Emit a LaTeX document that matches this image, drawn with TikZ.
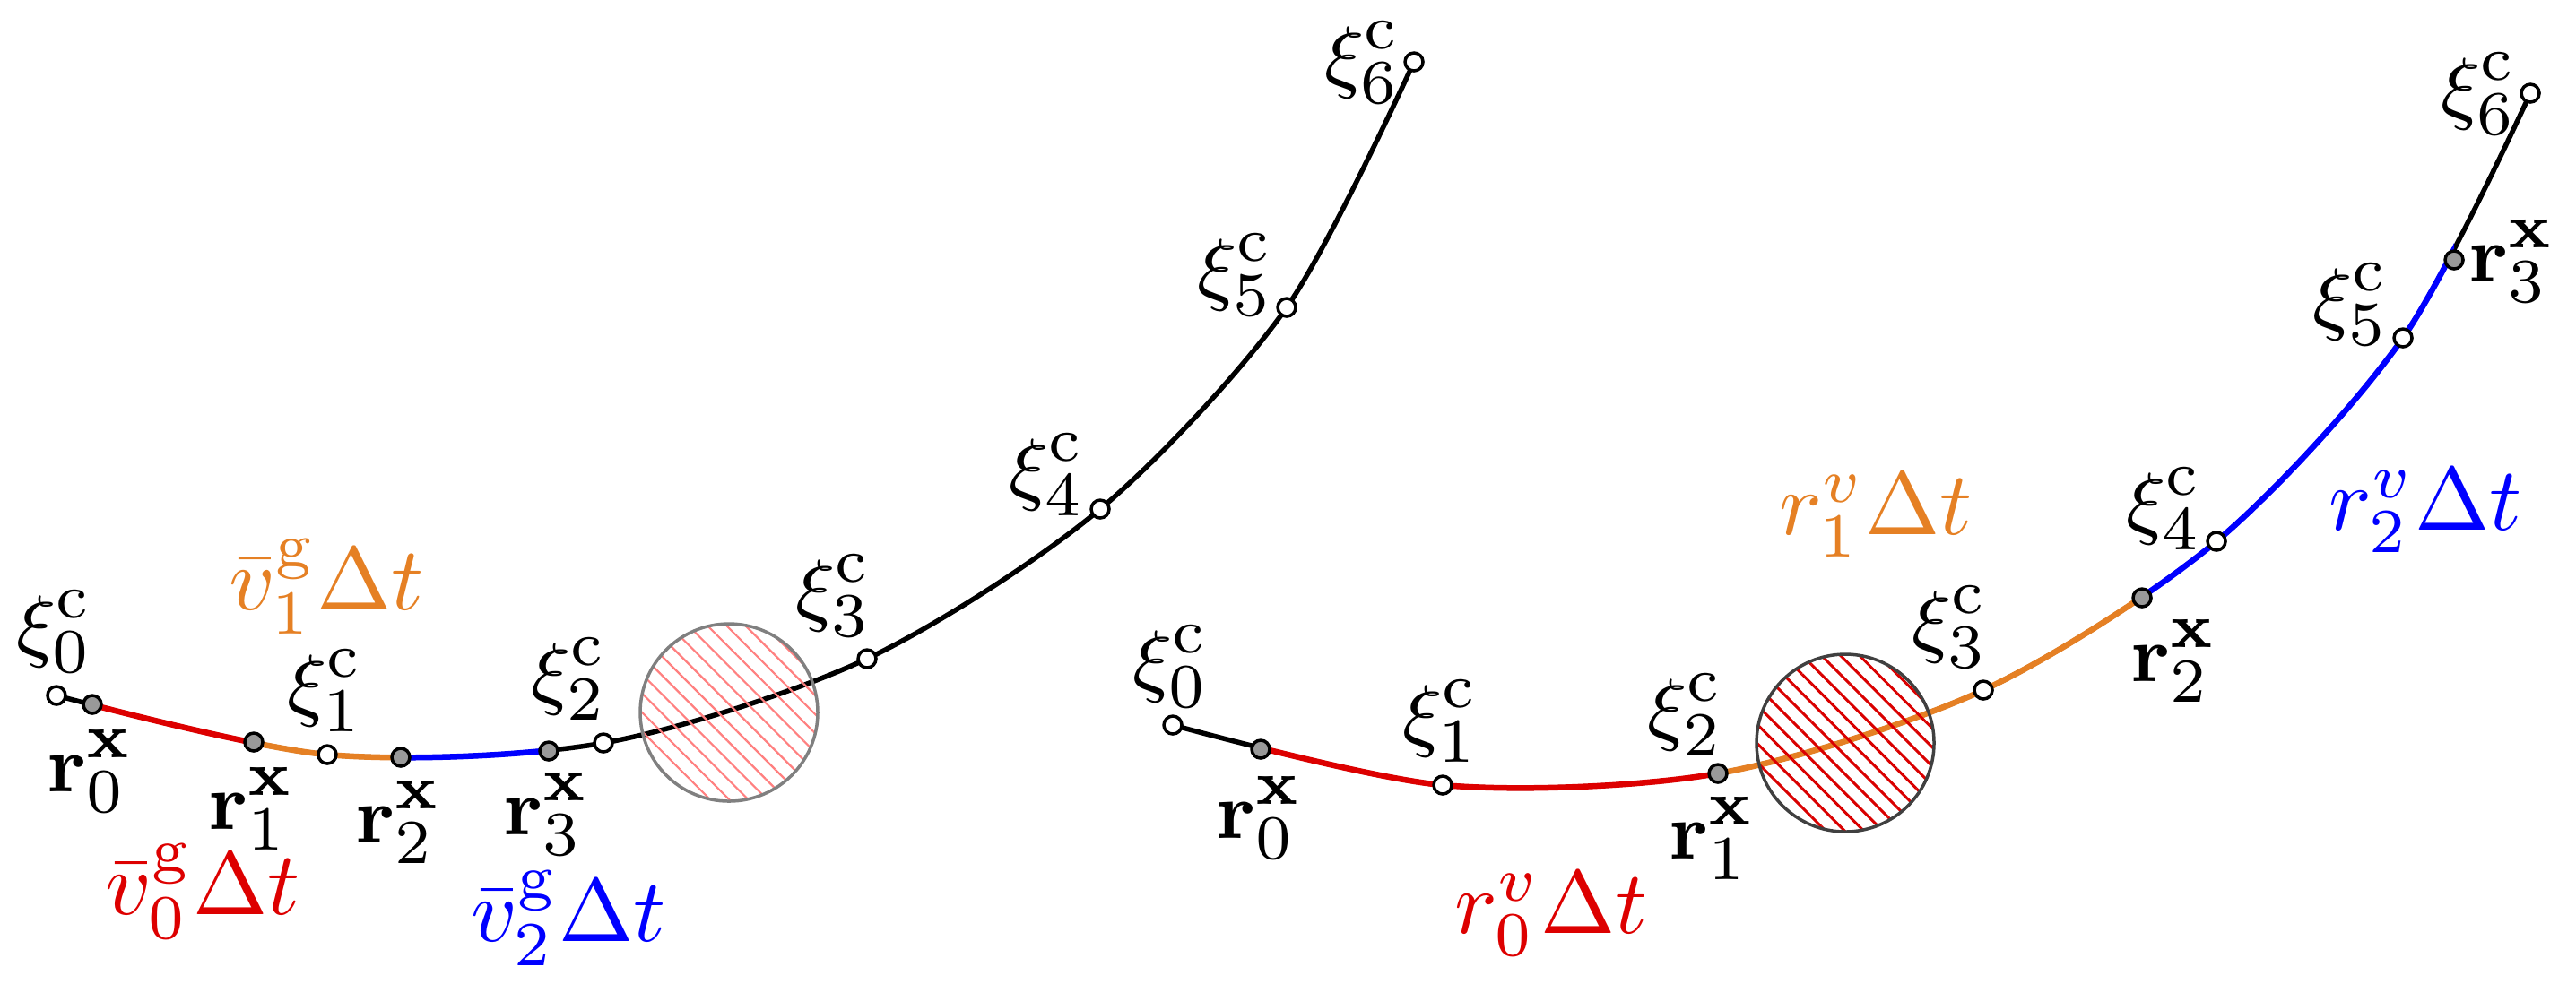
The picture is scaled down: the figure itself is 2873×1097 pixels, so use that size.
\documentclass[tikz,border=0pt]{standalone}
\usetikzlibrary{patterns.meta,positioning,calc}
\usepackage{xcolor}
\definecolor{segred}{RGB}{221,0,0}
\definecolor{segorange}{RGB}{229,128,36}
\definecolor{segblue}{RGB}{0,0,255}
\newcommand{\xicp}[1]{\xi^{\mathrm{c}}_{#1}}
\newcommand{\rxp}[1]{\mathbf{r}^{\mathbf{x}}_{#1}}
\tikzset{
	knot/.style={
		circle,
		draw=black,
		fill=white,
		line width=0.35pt,
		minimum size=2pt,
		inner sep=0pt,
	},
	sample/.style={
		knot,
		fill=black!40,
	},
	lab/.style={
		inner sep=0pt,
		font=\fontsize{9.5}{11}\selectfont,
	},
	steplab/.style={
		inner sep=0pt,
		font=\fontsize{10}{12}\selectfont,
	},
	track/.style={
		line width=0.55pt,
		line cap=round,
	},
	seg/.style={
		line width=0.65pt,
	},
	obstacle/.style={
		circle,
		minimum size=19.8pt,
		inner sep=0pt,
		line width=0.35pt,
	},
}

\begin{document}
\begin{tikzpicture}[x=0.1pt,y=-0.1pt]
\useasboundingbox (0,0) rectangle (2873,1097);

% left trajectory
\coordinate (Lx0) at (63,776);
\coordinate (Lx1) at (365,842);
\coordinate (Lx2) at (673,829);
\coordinate (Lx3) at (967,735);
\coordinate (Lx4) at (1227,568);
\coordinate (Lx5) at (1435,343);
\coordinate (Lx6) at (1577,69);
\coordinate (Lr0) at (103,786);
\coordinate (Lr1) at (283,828);
\coordinate (Lr2) at (447,845);
\coordinate (Lr3) at (612,838);

% right trajectory
\coordinate (Rx0) at (1308,809);
\coordinate (Rx1) at (1609,876);
\coordinate (Rx2) at (1916,863);
\coordinate (Rx3) at (2212,770);
\coordinate (Rx4) at (2472,604);
\coordinate (Rx5) at (2680,377);
\coordinate (Rx6) at (2822,104);
\coordinate (Rr0) at (1406,836);
\coordinate (Rr1) at (1916,863);
\coordinate (Rr2) at (2389,667);
\coordinate (Rr3) at (2737,290);

\draw[track] plot[smooth] coordinates {(Lx0) (Lx1) (Lx2) (Lx3) (Lx4) (Lx5) (Lx6)};
\draw[track] plot[smooth] coordinates {(Rx0) (Rx1) (Rx2) (Rx3) (Rx4) (Rx5) (Rx6)};

\foreach \a/\b/\c in {Lr0/Lr1/segred, Lr1/Lr2/segorange, Lr2/Lr3/segblue} {
	\begin{scope}
		\clip (\a |- 0,0) rectangle (\b |- 0,1097);
		\draw[seg,\c] plot[smooth] coordinates {(Lx0) (Lx1) (Lx2) (Lx3) (Lx4) (Lx5) (Lx6)};
	\end{scope}
}
\foreach \a/\b/\c in {Rr0/Rr1/segred, Rr1/Rr2/segorange, Rr2/Rr3/segblue} {
	\begin{scope}
		\clip (\a |- 0,0) rectangle (\b |- 0,1097);
		\draw[seg,\c] plot[smooth] coordinates {(Rx0) (Rx1) (Rx2) (Rx3) (Rx4) (Rx5) (Rx6)};
	\end{scope}
}

% obstacles
\node[obstacle,draw=black!50,pattern color=red!50,
	pattern={Lines[angle=-45,distance=1.5pt,line width=0.22pt]}] (Lobs) at (813,795) {};
\node[obstacle,draw=black!75,pattern color=red!85!black,
	pattern={Lines[angle=-45,distance=1.5pt,line width=0.3pt]}] (Robs) at (2058,829) {};

% markers
\foreach \p in {Lx0,Lx1,Lx2,Lx3,Lx4,Lx5,Lx6,Rx0,Rx1,Rx3,Rx4,Rx5,Rx6}
	\node[knot] (k\p) at (\p) {};
\foreach \p in {Lr0,Lr1,Lr2,Lr3,Rr0,Rr1,Rr2,Rr3}
	\node[sample] (s\p) at (\p) {};

% left labels
\node[lab] (lxi0) at (61,705) {$\xicp{0}$};
\node[lab] (lxi1) at (363,771) {$\xicp{1}$};
\node[lab] (lxi2) at (635,758) {$\xicp{2}$};
\node[lab] (lxi3) at (930,665) {$\xicp{3}$};
\node[lab] (lxi4) at (1168,530) {$\xicp{4}$};
\node[lab] (lxi5) at (1378,307) {$\xicp{5}$};
\node[lab] (lxi6) at (1520,70) {$\xicp{6}$};
\node[lab] (lrx0) at (101,860) {$\rxp{0}$};
\node[lab] (lrx1) at (281,902) {$\rxp{1}$};
\node[lab] (lrx2) at (445,917) {$\rxp{2}$};
\node[lab] (lrx3) at (610,908) {$\rxp{3}$};
\node[steplab,segorange] (lv1) at (364,655) {$\bar{v}^{\mathrm{g}}_1\Delta t$};
\node[steplab,segred] (lv0) at (226,995) {$\bar{v}^{\mathrm{g}}_0\Delta t$};
\node[steplab,segblue] (lv2) at (634,1025) {$\bar{v}^{\mathrm{g}}_2\Delta t$};

% right labels
\node[lab] (rxi0) at (1306,744) {$\xicp{0}$};
\node[lab] (rxi1) at (1607,805) {$\xicp{1}$};
\node[lab] (rxi2) at (1880,798) {$\xicp{2}$};
\node[lab] (rxi3) at (2175,700) {$\xicp{3}$};
\node[lab] (rxi4) at (2414,568) {$\xicp{4}$};
\node[lab] (rxi5) at (2622,340) {$\xicp{5}$};
\node[lab] (rxi6) at (2765,105) {$\xicp{6}$};
\node[lab] (rrx0) at (1405,912) {$\rxp{0}$};
\node[lab] (rrx1) at (1910,935) {$\rxp{1}$};
\node[lab] (rrx2) at (2425,737) {$\rxp{2}$};
\node[lab] (rrx3) at (2802,291) {$\rxp{3}$};
\node[steplab,segred] (rv0) at (1730,1020) {$r^{v}_0\Delta t$};
\node[steplab,segorange] (rv1) at (2092,575) {$r^{v}_1\Delta t$};
\node[steplab,segblue] (rv2) at (2705,570) {$r^{v}_2\Delta t$};

\end{tikzpicture}
\end{document}
